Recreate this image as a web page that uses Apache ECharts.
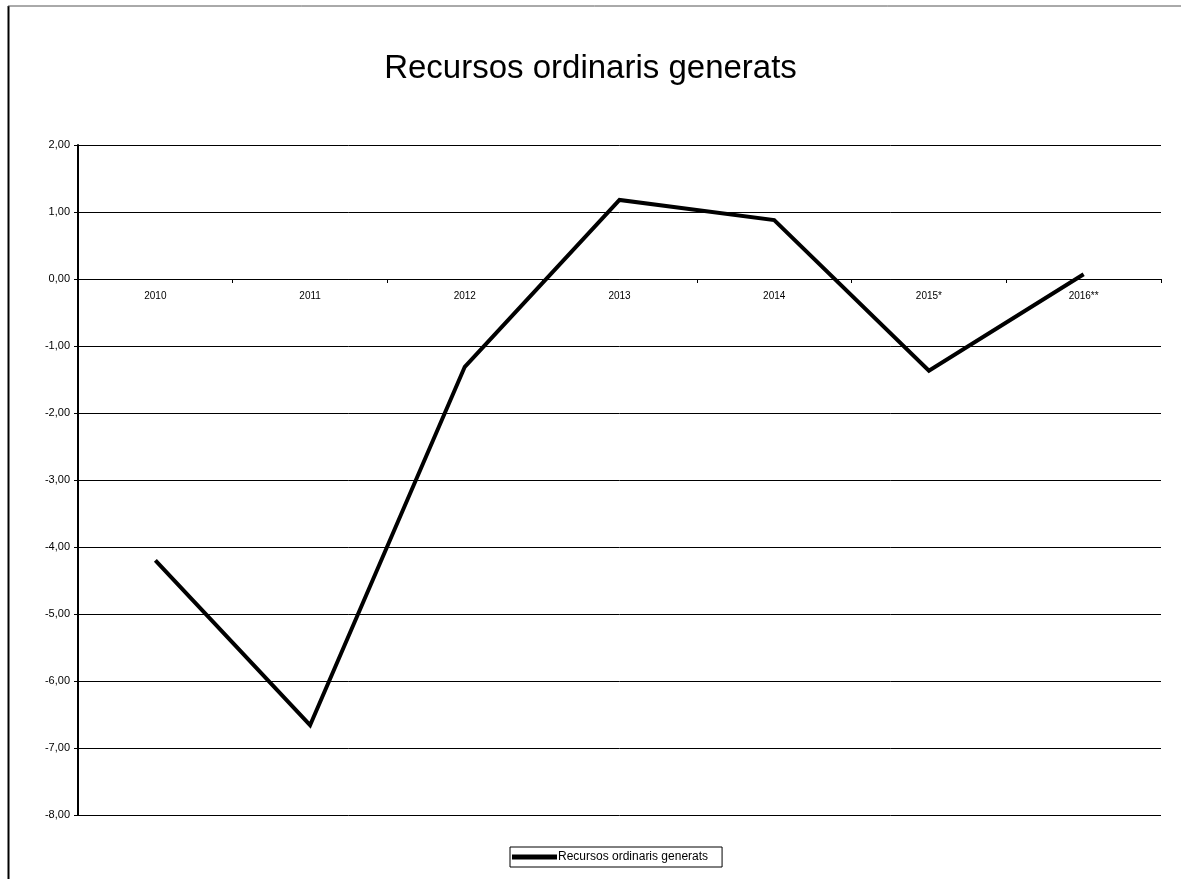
<!DOCTYPE html>
<html>
<head>
<meta charset="utf-8">
<script src="https://cdn.jsdelivr.net/npm/echarts@6/dist/echarts.min.js"></script>
<style>
html,body{margin:0;padding:0;background:#fff;}
#c{width:1181px;height:879px;}
</style>
</head>
<body>
<div id="c"></div>
<script>
const categories = ['2010','2011','2012','2013','2014','2015*','2016**'];
const seriesName = 'Recursos ordinaris generats';
const values = [-4.20, -6.66, -1.31, 1.18, 0.88, -1.37, 0.07];
const yTicks = {min: -8, max: 2, interval: 1};

const gridTop = 145, gridBottom = 64, H = 879;
const plotH = H - gridTop - gridBottom;
const zeroOffset = -(plotH * (0 - yTicks.min) / (yTicks.max - yTicks.min));

const chart = echarts.init(document.getElementById('c'));
chart.setOption({
  backgroundColor: '#fff',
  animation: false,
  title: {
    text: 'Recursos ordinaris generats',
    left: 'center',
    top: 47,
    textStyle: {fontFamily: 'Liberation Sans, Arial', fontSize: 33, fontWeight: 'normal', color: '#000'}
  },
  graphic: [
    {type: 'line', shape: {x1: 8.5, y1: 6, x2: 8.5, y2: 879}, style: {stroke: '#000', lineWidth: 2}},
    {type: 'line', shape: {x1: 8, y1: 6, x2: 1181, y2: 6}, style: {stroke: '#555', lineWidth: 1}}
  ],
  legend: {
    top: 847,
    left: 510,
    data: [seriesName],
    itemWidth: 45,
    itemHeight: 5,
    itemGap: 2,
    padding: [4, 14, 4, 2],
    borderColor: '#000',
    borderWidth: 1,
    borderRadius: 0,
    icon: 'rect',
    textStyle: {fontFamily: 'Liberation Sans, Arial', fontSize: 12, color: '#000', padding: [0,0,0,-4]}
  },
  grid: {left: 78, right: 20, top: gridTop, bottom: gridBottom, containLabel: false},
  xAxis: {
    type: 'category',
    data: categories,
    boundaryGap: true,
    offset: zeroOffset,
    axisLine: {onZero: false, lineStyle: {color: '#000', width: 1}},
    axisTick: {show: true, length: 4, inside: false, lineStyle: {color: '#000'}},
    axisLabel: {fontFamily: 'Liberation Sans, Arial', fontSize: 10, color: '#000', margin: 12},
    splitLine: {show: false}
  },
  yAxis: {
    type: 'value',
    min: yTicks.min,
    max: yTicks.max,
    interval: yTicks.interval,
    axisLine: {show: true, lineStyle: {color: '#000', width: 2}},
    axisTick: {show: true, length: 4, lineStyle: {color: '#000'}},
    axisLabel: {
      fontFamily: 'Liberation Sans, Arial', fontSize: 11, color: '#000', margin: 8,
      formatter: v => v.toFixed(2).replace('.', ',')
    },
    splitLine: {show: true, lineStyle: {color: '#000', width: 1}}
  },
  series: [{
    name: seriesName,
    type: 'line',
    data: values,
    symbol: 'none',
    lineStyle: {color: '#000', width: 4, join: 'miter'},
    itemStyle: {color: '#000'}
  }]
});
</script>
</body>
</html>
